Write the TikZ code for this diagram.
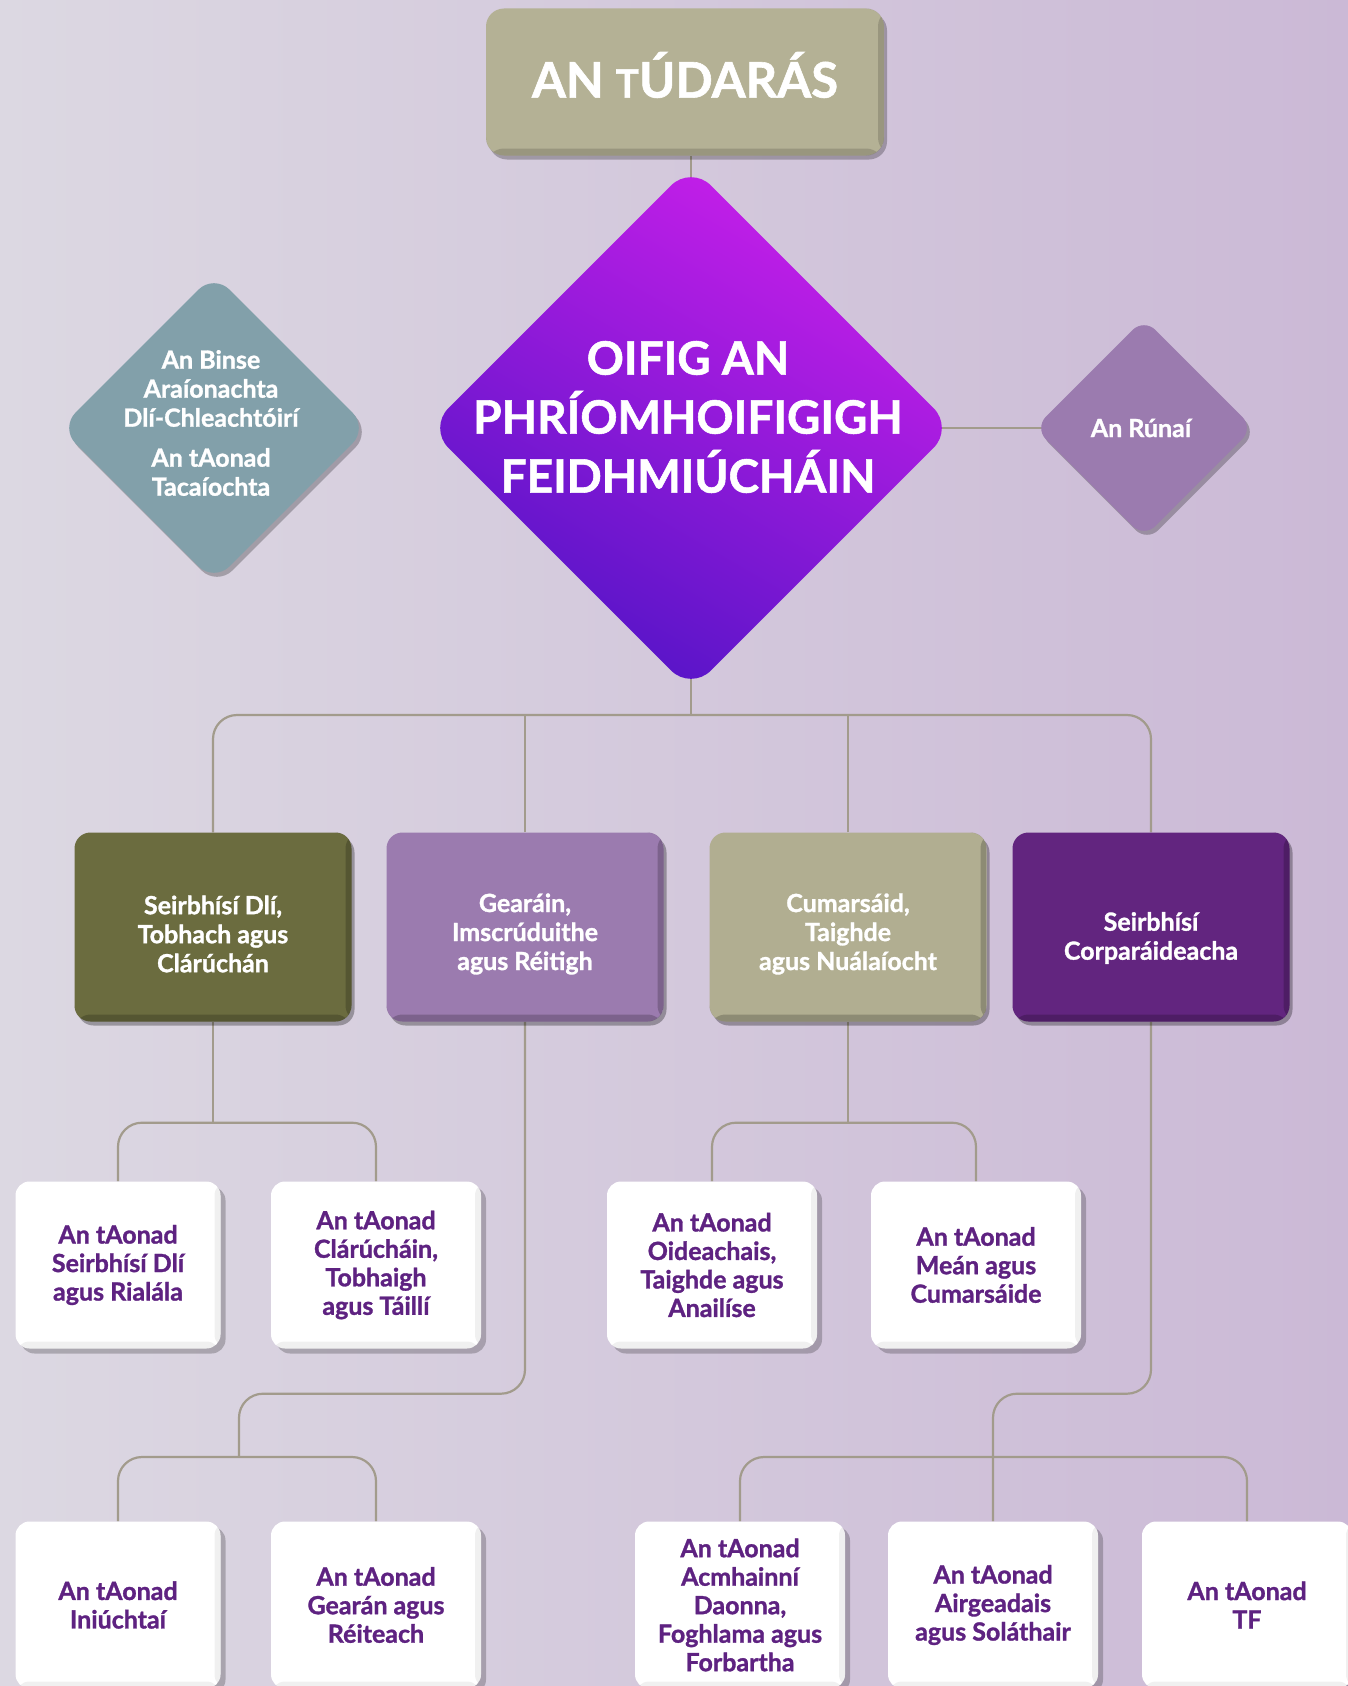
\documentclass[tikz,border=0pt]{standalone}
\usepackage{fontspec}
\setmainfont{Lato}[BoldFeatures={FakeBold=1.2}]
\usetikzlibrary{shapes.geometric,shadows,calc}
\pgfdeclarelayer{bg}
\pgfdeclarelayer{lines}
\pgfsetlayers{bg,lines,main}

\definecolor{linec}{HTML}{A29B8C}
\definecolor{colTan}{HTML}{B4B195}
\definecolor{colOlive}{HTML}{6B6C3F}
\definecolor{colMauve}{HTML}{9B7BAF}
\definecolor{colKhaki}{HTML}{B1AE91}
\definecolor{colDeep}{HTML}{62257F}
\definecolor{colSteel}{HTML}{82A0AA}
\definecolor{colUnitText}{HTML}{5E2281}
\definecolor{bgA}{HTML}{DCD8E2}
\definecolor{bgB}{HTML}{CBB9D6}
\definecolor{ceoA}{HTML}{C91FEA}
\definecolor{ceoB}{HTML}{5214C6}
\definecolor{ceoDark}{HTML}{5A0A8A}
\definecolor{ceoPink}{HTML}{E83AF8}

\newcommand\fntTop{\fontsize{49}{52}\selectfont\bfseries}
\newcommand\fntTopT{\fontsize{39}{42}\selectfont\bfseries}
\newcommand\fntCeo{\fontsize{46}{59}\selectfont\bfseries}
\newcommand\fntLevel{\fontsize{25}{29}\selectfont\bfseries}
\newcommand\fntUnit{\fontsize{25}{28.5}\selectfont\bfseries}
\newcommand\fntSide{\fontsize{25}{29}\selectfont\bfseries}

\tikzset{
  conn/.style={draw=linec, line width=2.2pt, rounded corners=24pt},
  bevel/.style={path picture={
    \fill[black,opacity=#1] ($(path picture bounding box.south west)+(0,-7)$) rectangle (path picture bounding box.south east);
    \fill[black,opacity=#1] ($(path picture bounding box.north east)+(-6,0)$) rectangle (path picture bounding box.south east);
  }},
  topbox/.style={rectangle, rounded corners=18pt, fill=colTan, minimum width=398pt,
    minimum height=147pt, text=white, font=\fntTop, align=center,
    drop shadow={shadow xshift=3pt, shadow yshift=-4pt, fill=black, opacity=.25}, bevel=.15},
  levelbox/.style={rectangle, rounded corners=16pt, minimum width=277pt, minimum height=189pt,
    text=white, font=\fntLevel, align=center,
    drop shadow={shadow xshift=3pt, shadow yshift=-4pt, fill=black, opacity=.3}, bevel=.2},
  unitbox/.style={rectangle, rounded corners=14pt, fill=white, minimum width=210pt,
    minimum height=167pt, text=colUnitText, font=\fntUnit, align=center,
    drop shadow={shadow xshift=5pt, shadow yshift=-5pt, fill=black, opacity=.22}, bevel=.06},
  sidediamond/.style={diamond, aspect=1, inner sep=0pt, rounded corners=22pt,
    drop shadow={shadow xshift=3pt, shadow yshift=-4pt, fill=black, opacity=.25}},
  ceotext/.style={text=white, font=\fntCeo, align=center},
  sidetext/.style={text=white, font=\fntSide, align=center},
  lbltext/.style={text=white, font=\fntLevel, align=center},
}

\begin{document}
\begin{tikzpicture}[x=1pt,y=-1pt]
\useasboundingbox (0,0) rectangle (1348,1686);
\begin{pgfonlayer}{bg}
  \shade[left color=bgA, right color=bgB] (0,0) rectangle (1348,1686);
\end{pgfonlayer}

% top
\node[topbox, text depth=0pt, label={[text=white, font=\fntTop, yshift=7pt]center:{AN {\fntTopT T}ÚDARÁS}}] (top) at (685,82) {};

% central diamond
\node[diamond, aspect=1, minimum width=525pt, minimum height=525pt, inner sep=0pt,
  rounded corners=28pt, top color=ceoA, bottom color=ceoB, shading angle=-30,
  path picture={
    \fill[ceoDark, opacity=.28] (725,212) -- (815,302) -- (725,392) -- (635,302) -- cycle;
    \fill[white, opacity=.07] (795,290) -- (905,400) -- (795,510) -- (685,400) -- cycle;
    \fill[black, opacity=.07] (780,470) -- (870,560) -- (780,650) -- (690,560) -- cycle;
    \fill[ceoPink, opacity=.9] (950,424) -- (830,544) -- (818,532) -- (938,412) -- cycle;
  },
  label={[ceotext, yshift=11pt, xshift=-3pt]center:{OIFIG AN\\PHRÍOMHOIFIGIGH\\FEIDHMIÚCHÁIN}}]
  (ceo) at (691,428) {};

% side diamonds
\node[sidediamond, fill=colSteel, minimum width=308pt, minimum height=308pt,
  label={[sidetext, yshift=5pt, xshift=-3pt]center:{An Binse\\Araíonachta\\Dlí-Chleachtóirí\\[11pt]An tAonad\\Tacaíochta}}]
  (tribunal) at (214,428) {};
\node[sidediamond, fill=colMauve, minimum width=219pt, minimum height=219pt, rounded corners=16pt,
  label={[sidetext, xshift=-3pt]center:{An Rúnaí}}]
  (runai) at (1144,428) {};

% level 2
\node[levelbox, fill=colOlive, label={[lbltext, yshift=-7pt]center:{Seirbhísí Dlí,\\Tobhach agus\\Clárúchán}}] (l2a) at (213,927) {};
\node[levelbox, fill=colMauve, label={[lbltext, yshift=-7pt]center:{Gearáin,\\Imscrúduithe\\agus Réitigh}}] (l2b) at (525,927) {};
\node[levelbox, fill=colKhaki, label={[lbltext, yshift=-7pt]center:{Cumarsáid,\\Taighde\\agus Nuálaíocht}}] (l2c) at (848,927) {};
\node[levelbox, fill=colDeep, label={[lbltext, yshift=-11pt]center:{Seirbhísí\\Corparáideacha}}] (l2d) at (1151,927) {};

% row A units
\node[unitbox, minimum width=205pt] (a1) at (118,1265) {An tAonad\\Seirbhísí Dlí\\agus Rialála};
\node[unitbox] (a2) at (376,1265) {An tAonad\\Clárúcháin,\\Tobhaigh\\agus Táillí};
\node[unitbox] (a3) at (712,1265) {An tAonad\\Oideachais,\\Taighde agus\\Anailíse};
\node[unitbox] (a4) at (976,1265) {An tAonad\\Meán agus\\Cumarsáide};

% row B units
\node[unitbox, minimum width=205pt] (b1) at (118,1605) {An tAonad\\Iniúchtaí};
\node[unitbox] (b2) at (376,1605) {An tAonad\\Gearán agus\\Réiteach};
\node[unitbox] (b3) at (740,1605) {An tAonad\\Acmhainní\\Daonna,\\Foghlama agus\\Forbartha};
\node[unitbox] (b4) at (993,1605) {An tAonad\\Airgeadais\\agus Soláthair};
\node[unitbox] (b5) at (1247,1605) {An tAonad\\TF};

% connectors
\coordinate (busA) at (691,715);
\path (l2a.south) ++(0,101) coordinate (busB);
\path (l2c.south) ++(0,101) coordinate (busC);
\coordinate (busD) at (239,1457);
\coordinate (busE) at (993,1457);

\begin{pgfonlayer}{lines}
  \draw[conn] (ceo.north |- top.south) -- (ceo.center);
  \draw[conn] (ceo.center) -- (runai.center);
  \draw[conn] (ceo.center) -- (busA);
  \draw[conn] (l2a.north) |- (busA) -| (l2d.north);
  \draw[conn] (l2b.north) -- (l2b.north |- busA);
  \draw[conn] (l2c.north) -- (l2c.north |- busA);

  \draw[conn] (l2a.south) -- (busB);
  \draw[conn] (a1.north) |- (busB) -| (a2.north);
  \draw[conn] (l2c.south) -- (busC);
  \draw[conn] (a3.north) |- (busC) -| (a4.north);

  \draw[conn] (l2b.south) -- ++(0,372) -| (busD);
  \draw[conn] (b1.north) |- (busD) -| (b2.north);
  \draw[conn] (l2d.south) -- ++(0,372) -| (b4.north);
  \draw[conn] (b3.north) |- (busE) -| (b5.north);
\end{pgfonlayer}
\end{tikzpicture}
\end{document}
